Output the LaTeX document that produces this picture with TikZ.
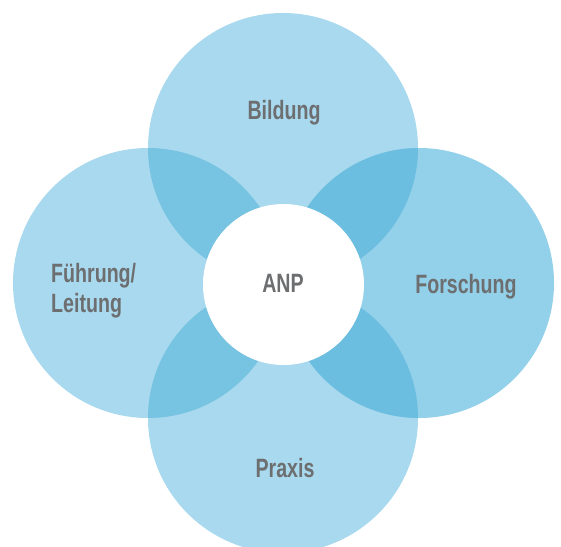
\documentclass[tikz,border=0pt]{standalone}
\usepackage{fontspec}
\setmainfont{Liberation Sans}[FakeStretch=0.74]
\definecolor{petal}{HTML}{A8D9EE}
\definecolor{petalr}{HTML}{93D0E9}
\definecolor{lapl}{HTML}{77C3E2}
\definecolor{lapr}{HTML}{6BBEE0}
\definecolor{textgray}{HTML}{6D6E70}
\begin{document}
\begin{tikzpicture}[x=1pt,y=-1pt,
    lbl/.style={text=textgray,font=\bfseries\fontsize{26.5}{30}\selectfont,inner sep=0pt}]
	\useasboundingbox (0,0) rectangle (561,546);
	\begin{scope}
		\clip (0,0) rectangle (561,546);
		% petals
		\fill[petal] (283,148) circle [radius=135pt];
		\fill[petal] (148,283) circle [radius=135pt];
		\fill[petal] (283,418) circle [radius=135pt];
		\fill[petalr] (419,283) circle [radius=135pt];
		% overlaps
		\begin{scope}
			\clip (148,283) circle [radius=135pt];
			\fill[lapl] (283,148) circle [radius=135pt];
			\fill[lapl] (283,418) circle [radius=135pt];
		\end{scope}
		\begin{scope}
			\clip (419,283) circle [radius=135pt];
			\fill[lapr] (283,148) circle [radius=135pt];
			\fill[lapr] (283,418) circle [radius=135pt];
		\end{scope}
		% centre
		\fill[white] (283.5,284.5) circle [radius=80.5pt];
	\end{scope}
	\node[lbl,anchor=base] (bildung) at (284,119) {Bildung};
	\node[lbl,anchor=base] (anp) at (283,292) {ANP};
	\node[lbl,anchor=base] (forschung) at (466,293) {Forschung};
	\node[lbl,anchor=base] (praxis) at (285,477) {Praxis};
	\node[lbl,anchor=base west,align=left] (fuehrung) at (51,312) {Führung/\\Leitung};
\end{tikzpicture}
\end{document}
